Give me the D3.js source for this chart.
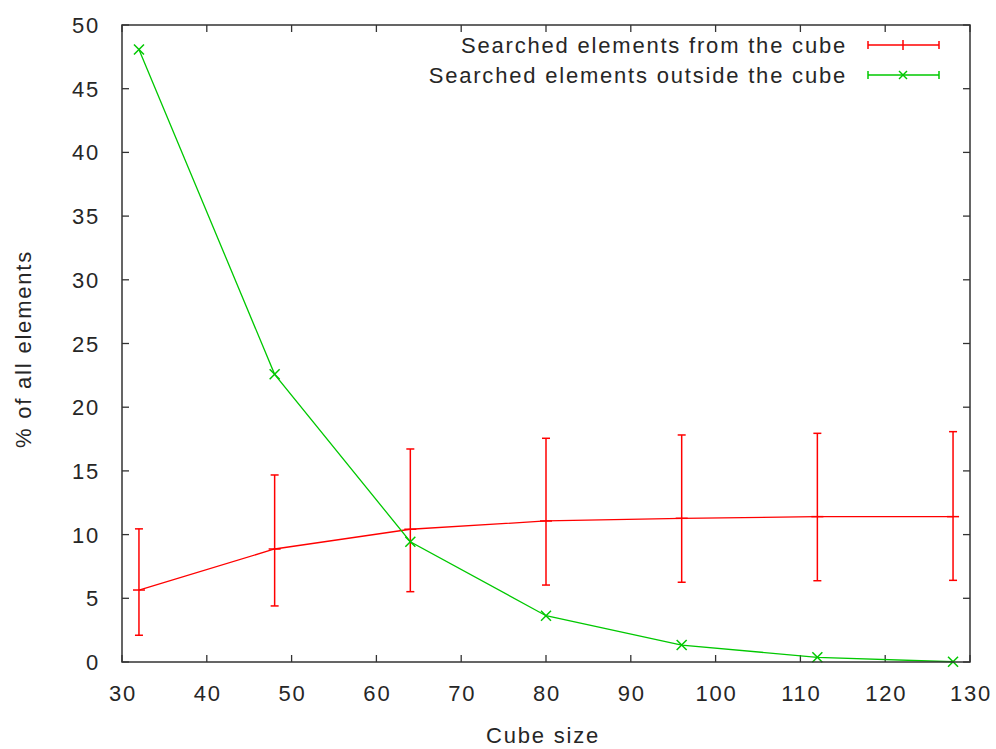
<!DOCTYPE html>
<html><head><meta charset="utf-8">
<script src="https://cdn.jsdelivr.net/npm/d3@7"></script>
<style>body{margin:0;background:#fff}svg{display:block}text{font-family:"Liberation Sans",Arial,sans-serif;fill:#262626}</style>
</head><body>
<script>
const cubeSizes = [32, 48, 64, 80, 96, 112, 128];
const fromCube = [5.65, 8.87, 10.42, 11.07, 11.28, 11.41, 11.41];
const fromCubeLow = [2.1, 4.4, 5.52, 6.04, 6.26, 6.38, 6.41];
const fromCubeHigh = [10.45, 14.68, 16.72, 17.56, 17.82, 17.95, 18.08];
const outsideCube = [48.08, 22.58, 9.44, 3.63, 1.33, 0.37, 0.02];
const xTicks = [30, 40, 50, 60, 70, 80, 90, 100, 110, 120, 130];
const yTicks = [0, 5, 10, 15, 20, 25, 30, 35, 40, 45, 50];
const seriesNames = ["Searched elements from the cube", "Searched elements outside the cube"];
const RED = "#ff0000", GREEN = "#00c800";

const W = 996, H = 749;
const L = 122, R = 970, T = 25, B = 662;
const svg = d3.select("body").append("svg").attr("width", W).attr("height", H);
const x = d3.scaleLinear().domain([30, 130]).range([L, R]);
const y = d3.scaleLinear().domain([0, 50]).range([B, T]);
const tk = 7;
const axisCol = "#333";
const FS = "22px", LS = "1.8px";

// ticks (mirrored, inward)
const g = svg.append("g").attr("stroke", axisCol).attr("stroke-width", 1.3);
xTicks.forEach(v => {
  g.append("line").attr("x1", x(v)).attr("x2", x(v)).attr("y1", B).attr("y2", B - tk);
  g.append("line").attr("x1", x(v)).attr("x2", x(v)).attr("y1", T).attr("y2", T + tk);
});
yTicks.forEach(v => {
  g.append("line").attr("x1", L).attr("x2", L + tk).attr("y1", y(v)).attr("y2", y(v));
  g.append("line").attr("x1", R).attr("x2", R - tk).attr("y1", y(v)).attr("y2", y(v));
});
const lab = svg.append("g").style("font-size", FS).style("letter-spacing", LS);
xTicks.forEach(v => lab.append("text").attr("x", x(v) + 1).attr("y", 701).attr("text-anchor", "middle").text(v));
yTicks.forEach(v => lab.append("text").attr("x", 100).attr("y", y(v) + 8).attr("text-anchor", "end").text(v));
lab.append("text").attr("x", 543).attr("y", 743).attr("text-anchor", "middle").text("Cube size");
lab.append("text").attr("transform", `translate(31,349) rotate(-90)`).attr("text-anchor", "middle").text("% of all elements");

// red series
const data1 = cubeSizes.map((c, i) => ({x: c, y: fromCube[i], lo: fromCubeLow[i], hi: fromCubeHigh[i]}));
const data2 = cubeSizes.map((c, i) => ({x: c, y: outsideCube[i]}));
const line = d3.line().x(d => x(d.x)).y(d => y(d.y)).curve(d3.curveLinear);
svg.append("path").datum(data1).attr("d", line).attr("fill", "none").attr("stroke", RED).attr("stroke-width", 1.3);
const eb = svg.append("g").attr("stroke", RED).attr("stroke-width", 1.5);
data1.forEach(d => {
  eb.append("line").attr("x1", x(d.x)).attr("x2", x(d.x)).attr("y1", y(d.lo)).attr("y2", y(d.hi));
  eb.append("line").attr("x1", x(d.x) - 4).attr("x2", x(d.x) + 4).attr("y1", y(d.lo)).attr("y2", y(d.lo));
  eb.append("line").attr("x1", x(d.x) - 4).attr("x2", x(d.x) + 4).attr("y1", y(d.hi)).attr("y2", y(d.hi));
  eb.append("line").attr("x1", x(d.x) - 6).attr("x2", x(d.x) + 6).attr("y1", y(d.y)).attr("y2", y(d.y));
});

// green series
svg.append("path").datum(data2).attr("d", line).attr("fill", "none").attr("stroke", GREEN).attr("stroke-width", 1.3);
const mk = svg.append("g").attr("stroke", GREEN).attr("stroke-width", 1.5);
data2.forEach(d => {
  const cx = x(d.x), cy = y(d.y), s = 5;
  mk.append("line").attr("x1", cx - s).attr("x2", cx + s).attr("y1", cy - s).attr("y2", cy + s);
  mk.append("line").attr("x1", cx - s).attr("x2", cx + s).attr("y1", cy + s).attr("y2", cy - s);
});

// border
svg.append("rect").attr("x", L).attr("y", T).attr("width", R - L).attr("height", B - T)
  .attr("fill", "none").attr("stroke", axisCol).attr("stroke-width", 1.5);

// legend
const leg = svg.append("g");
const ly = [45, 75];
[RED, GREEN].forEach((col, i) => {
  leg.append("text").attr("x", 847).attr("y", ly[i] + 8).attr("text-anchor", "end")
    .style("font-size", FS).style("letter-spacing", LS).text(seriesNames[i]);
  const gg = leg.append("g").attr("stroke", col).attr("stroke-width", 1.5);
  gg.append("line").attr("x1", 868).attr("x2", 939).attr("y1", ly[i]).attr("y2", ly[i]);
  gg.append("line").attr("x1", 868).attr("x2", 868).attr("y1", ly[i] - 4).attr("y2", ly[i] + 4);
  gg.append("line").attr("x1", 939).attr("x2", 939).attr("y1", ly[i] - 4).attr("y2", ly[i] + 4);
  if (i === 0) {
    gg.append("line").attr("x1", 903).attr("x2", 903).attr("y1", ly[i] - 5).attr("y2", ly[i] + 5);
  } else {
    gg.append("line").attr("x1", 899).attr("x2", 907).attr("y1", ly[i] - 4).attr("y2", ly[i] + 4);
    gg.append("line").attr("x1", 899).attr("x2", 907).attr("y1", ly[i] + 4).attr("y2", ly[i] - 4);
  }
});
</script>
</body></html>
